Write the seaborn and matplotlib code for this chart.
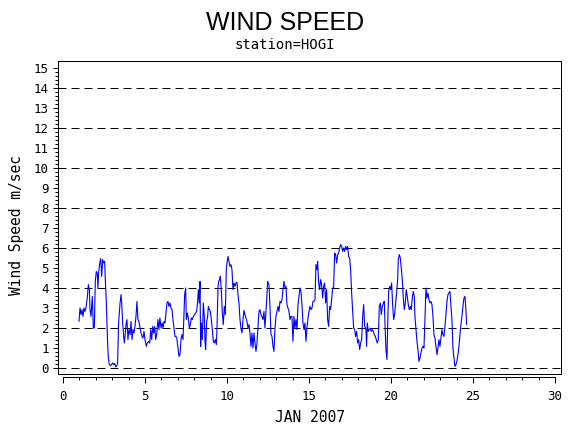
import numpy as np
import pandas as pd
import matplotlib
matplotlib.use("Agg")
import matplotlib.pyplot as plt
from matplotlib.ticker import FixedLocator
import seaborn as sns

# ---------------- data (hourly-ish wind speed) ----------------
days_jan1_6 = [0.976, 1.037, 1.098, 1.159, 1.22, 1.28, 1.34, 1.40, 1.48, 1.545, 1.606, 1.646, 1.707, 1.788,
               1.85, 1.91, 1.97, 2.03, 2.09, 2.13, 2.17, 2.24, 2.30, 2.36, 2.42, 2.48, 2.54, 2.58, 2.64, 2.68,
               2.72, 2.76, 2.82, 2.91, 3.03, 3.09, 3.15, 3.21, 3.29, 3.33, 3.39, 3.48, 3.54, 3.58, 3.64, 3.70,
               3.74, 3.80, 3.84, 3.90, 3.96, 4.02, 4.09, 4.15, 4.21, 4.27, 4.33, 4.39, 4.45, 4.51, 4.57, 4.63,
               4.70, 4.76, 4.82, 4.88, 4.94, 5.0, 5.08, 5.14, 5.22, 5.29, 5.35, 5.41, 5.47, 5.53, 5.59, 5.65,
               5.71, 5.79, 5.85, 5.91, 5.98, 6.04, 6.10, 6.16, 6.22, 6.28, 6.34]
speed_jan1_6 = [2.33, 3.0, 2.67, 2.92, 2.58, 3.0, 2.83, 3.0, 3.5, 4.17, 3.92, 2.92, 2.58, 3.58,
                2.0, 2.0, 4.33, 4.83, 4.75, 4.0, 4.75, 5.25, 5.47, 4.58, 5.42, 5.25, 5.33, 4.42, 3.33, 2.25,
                1.25, 0.58, 0.17, 0.12, 0.25, 0.17, 0.22, 0.05, 0.12, 0.25, 2.25, 3.25, 3.67, 3.25, 2.25, 1.58,
                1.25, 1.75, 2.17, 2.42, 1.42, 1.92, 1.67, 2.33, 1.42, 1.92, 1.75, 2.08, 2.58, 3.33, 2.42, 2.33,
                2.0, 1.75, 1.58, 1.5, 1.83, 1.42, 1.08, 1.25, 1.33, 1.25, 1.92, 1.42, 2.08, 1.75, 2.08, 1.42,
                1.67, 2.42, 1.92, 2.5, 2.0, 2.25, 2.0, 2.33, 2.25, 2.75, 3.25]

days_jan6_12 = [6.402, 6.463, 6.524, 6.585, 6.646, 6.707, 6.768, 6.829, 6.890, 6.951, 7.012, 7.073, 7.134,
                7.195, 7.256, 7.317, 7.358, 7.419, 7.480, 7.520, 7.581, 7.642, 7.703, 7.764, 7.825, 7.886,
                7.947, 8.028, 8.089, 8.150, 8.211, 8.252, 8.313, 8.354, 8.394, 8.435, 8.496, 8.557, 8.618,
                8.659, 8.699, 8.760, 8.821, 8.862, 8.923, 8.984, 9.045, 9.106, 9.167, 9.228, 9.289, 9.350,
                9.390, 9.451, 9.492, 9.553, 9.593, 9.654, 9.715, 9.776, 9.837, 9.898, 9.959, 10.0, 10.061,
                10.122, 10.183, 10.244, 10.305, 10.366, 10.427, 10.488, 10.549, 10.610, 10.671, 10.732,
                10.793, 10.854, 10.915, 10.976, 11.037, 11.098, 11.159, 11.220, 11.280, 11.341, 11.402,
                11.463, 11.524, 11.585, 11.646, 11.707, 11.768, 11.829, 11.890, 11.951, 12.012, 12.073,
                12.134, 12.195, 12.256, 12.317, 12.378, 12.439, 12.480]
speed_jan6_12 = [3.33, 3.08, 3.25, 3.0, 2.92, 2.42, 2.0, 1.58, 1.58, 1.42, 1.0, 0.58, 0.67,
                 1.42, 1.67, 1.42, 2.25, 3.67, 4.0, 2.42, 2.75, 2.5, 2.0, 2.17, 2.5, 2.42,
                 2.58, 2.67, 2.75, 2.83, 3.33, 3.92, 3.25, 4.33, 1.08, 2.25, 1.42, 3.25, 2.58,
                 1.33, 0.92, 2.33, 2.58, 3.08, 2.92, 2.83, 2.42, 1.92, 1.33, 1.25, 1.42, 1.17,
                 1.92, 4.0, 4.33, 4.42, 4.58, 3.92, 2.75, 2.17, 3.08, 2.67, 4.92, 5.25, 5.58,
                 5.33, 5.08, 5.17, 4.92, 3.92, 4.25, 4.08, 4.25, 4.28, 3.67, 3.25,
                 2.42, 2.0, 1.75, 2.42, 2.88, 2.67, 2.5, 2.33, 2.0, 2.17, 1.75,
                 1.08, 1.75, 1.0, 1.75, 1.25, 0.83, 1.25, 2.08, 2.83, 2.92, 2.67,
                 2.58, 2.42, 2.83, 2.0, 2.83, 3.67, 4.33]

days_jan12_18 = [12.500, 12.561, 12.622, 12.683, 12.744, 12.805, 12.866, 12.927, 12.988, 13.049, 13.110,
                 13.171, 13.232, 13.293, 13.354, 13.415, 13.476, 13.537, 13.598, 13.659, 13.720, 13.780,
                 13.841, 13.902, 13.963, 14.024, 14.085, 14.146, 14.207, 14.268, 14.329, 14.390, 14.451,
                 14.512, 14.573, 14.634, 14.695, 14.756, 14.817, 14.878, 14.939, 15.0, 15.061, 15.122,
                 15.183, 15.244, 15.305, 15.366, 15.427, 15.488, 15.528, 15.589, 15.650, 15.711, 15.772,
                 15.833, 15.894, 15.955, 16.016, 16.077, 16.138, 16.199, 16.260, 16.321, 16.382, 16.443,
                 16.504, 16.565, 16.626, 16.687, 16.748, 16.809, 16.870, 16.931, 16.992, 17.053, 17.114,
                 17.175, 17.236, 17.297, 17.358, 17.419, 17.480, 17.541, 17.602, 17.663, 17.724, 17.785,
                 17.846, 17.907, 17.968, 18.029, 18.091, 18.152, 18.213, 18.274, 18.335, 18.396, 18.457]
speed_jan12_18 = [4.25, 4.17, 3.08, 1.67, 1.58, 1.08, 0.83, 2.0, 2.58, 2.83, 3.08,
                  2.83, 3.33, 3.25, 3.42, 3.92, 4.33, 4.0, 4.08, 3.17, 3.0, 2.83,
                  2.42, 2.58, 2.58, 1.33, 2.58, 2.0, 2.42, 1.92, 3.17, 3.58, 4.0,
                  3.83, 3.17, 2.25, 1.92, 2.25, 1.33, 2.0, 2.5, 2.83, 3.08, 2.92,
                  3.0, 3.33, 3.33, 3.42, 5.17, 4.92, 5.33, 4.25, 3.92, 4.42, 4.17,
                  3.5, 4.08, 4.25, 3.25, 3.92, 2.42, 2.08, 3.08, 2.92, 3.42, 4.0,
                  4.0, 5.75, 5.67, 5.25, 5.67, 5.75, 6.0, 6.17, 6.08, 5.83, 6.0,
                  5.83, 6.08, 5.92, 6.08, 5.58, 5.5, 4.92, 3.75, 2.83, 2.0, 1.92,
                  1.58, 1.83, 1.25, 1.42, 0.92, 1.25, 1.42, 2.58, 3.17, 2.08, 2.0]

days_jan18_25 = [18.476, 18.516, 18.557, 18.618, 18.679, 18.740, 18.801, 18.862, 18.923, 18.984, 19.045,
                 19.106, 19.167, 19.228, 19.289, 19.350, 19.411, 19.472, 19.533, 19.594, 19.634, 19.695,
                 19.756, 19.797, 19.858, 19.919, 19.980, 20.041, 20.102, 20.163, 20.224, 20.285, 20.346,
                 20.407, 20.447, 20.508, 20.569, 20.630, 20.691, 20.752, 20.813, 20.874, 20.935, 20.996,
                 21.057, 21.118, 21.179, 21.240, 21.301, 21.362, 21.423, 21.463, 21.524, 21.585, 21.646,
                 21.707, 21.768, 21.829, 21.890, 21.951, 22.012, 22.073, 22.134, 22.195, 22.256, 22.317,
                 22.378, 22.439, 22.500, 22.561, 22.622, 22.683, 22.744, 22.805, 22.866, 22.927, 22.988,
                 23.049, 23.110, 23.171, 23.232, 23.293, 23.354, 23.415, 23.476, 23.537, 23.598, 23.659,
                 23.720, 23.780, 23.841, 23.902, 23.963, 24.024, 24.085, 24.146, 24.207, 24.268, 24.329,
                 24.390, 24.451, 24.512, 24.573, 24.614]
speed_jan18_25 = [1.92, 1.08, 2.25, 1.83, 1.92, 2.0, 1.83, 1.92, 1.83, 1.67, 1.58,
                  1.42, 1.25, 1.42, 3.08, 3.25, 2.67, 3.08, 3.25, 3.33, 2.25, 0.92,
                  0.42, 2.08, 3.83, 4.08, 3.92, 4.25, 3.17, 2.42, 2.67, 3.25, 3.75,
                  4.42, 5.42, 5.67, 5.5, 5.0, 4.42, 3.5, 2.92, 3.25, 3.92, 3.58,
                  3.17, 2.92, 3.08, 2.92, 3.5, 3.83, 3.58, 2.58, 1.92, 1.33, 0.92,
                  0.33, 0.5, 0.75, 1.0, 1.08, 1.0, 2.42, 4.0, 3.5, 3.75, 3.42,
                  3.25, 3.33, 3.17, 2.58, 1.67, 1.5, 1.08, 0.67, 1.0, 1.42, 1.08,
                  1.5, 1.92, 1.67, 1.58, 2.08, 2.67, 3.33, 3.67, 3.75, 3.83, 3.08,
                  2.42, 1.0, 0.5, 0.08, 0.17, 0.33, 0.67, 1.08, 1.67, 2.17, 2.58,
                  3.08, 3.5, 3.58, 2.92, 2.17]

title = "WIND SPEED"
subtitle = "station=HOGI"
y_label = "Wind Speed m/sec"
x_label = "JAN 2007"
y_ticks = list(range(0, 16))
x_ticks = [0, 5, 10, 15, 20, 25, 30]
grid_levels = [0, 2, 4, 6, 8, 10, 12, 14]

days = days_jan1_6 + days_jan6_12 + days_jan12_18 + days_jan18_25
speed = speed_jan1_6 + speed_jan6_12 + speed_jan12_18 + speed_jan18_25
df = pd.DataFrame({"day": days, "speed": speed})

# ---------------- figure ----------------
sns.set_theme(style="white")
plt.rcParams['font.family'] = ['DejaVu Sans Mono', 'DejaVu Sans']

W, H = 570, 430
fig = plt.figure(figsize=(W / 100, H / 100), dpi=100)
fig.patch.set_facecolor("white")

def fx(px):
    return px / W

def fy(py):
    return 1 - py / H

L, R, T, B = 58, 561, 61, 374
ax = fig.add_axes([fx(L), fy(B), (R - L) / W, (B - T) / H])
ax.set_facecolor("white")

for g in grid_levels:
    ax.axhline(g, color="black", lw=0.72, dashes=(8, 5), zorder=1)

sns.lineplot(data=df, x="day", y="speed", ax=ax, color="#0000ff", lw=0.8,
             estimator=None, sort=False, zorder=3)

xmin, xmax = -0.305, 30.37
ax.set_xlim(xmin, xmax)
ax.set_ylim(-0.3, 15.35)
ax.set_xlabel("")
ax.set_ylabel("")
ax.set_xticks([])
ax.set_yticks(y_ticks)
ax.set_yticklabels([str(t) for t in y_ticks])
minor_y = [v for v in np.round(np.arange(0, 15.01, 0.2), 2) if abs(v - round(v)) > 1e-6]
ax.yaxis.set_minor_locator(FixedLocator(minor_y))
ax.tick_params(axis="y", which="major", direction="out", length=3.6, width=0.72,
               pad=3, labelsize=9, colors="black", left=True)
ax.tick_params(axis="y", which="minor", direction="out", length=2.0, width=0.72,
               colors="black", left=True)
for s in ax.spines.values():
    s.set_visible(True)
    s.set_color("black")
    s.set_linewidth(0.72)

# separate SAS-style horizontal axis below the frame
axx = fig.add_axes([fx(L), fy(377), (R - L) / W, 0.0001])
axx.set_xlim(xmin, xmax)
axx.patch.set_visible(False)
for side in ["top", "left", "right"]:
    axx.spines[side].set_visible(False)
axx.spines["bottom"].set_color("black")
axx.spines["bottom"].set_linewidth(0.72)
axx.spines["bottom"].set_bounds(0, 30)
axx.set_yticks([])
axx.set_xticks(x_ticks)
axx.set_xticklabels([str(t) for t in x_ticks])
axx.xaxis.set_minor_locator(FixedLocator([d for d in range(0, 31) if d % 5 != 0]))
axx.tick_params(axis="x", which="major", direction="out", length=4.0, width=0.72,
                pad=5, labelsize=9, colors="black", bottom=True)
axx.tick_params(axis="x", which="minor", direction="out", length=2.0, width=0.72,
                colors="black", bottom=True)

fig.text(fx(285), fy(23), title, ha="center", va="center", fontsize=18,
         family=["Liberation Sans", "DejaVu Sans"], color="black")
fig.text(fx(285), fy(45), subtitle, ha="center", va="center", fontsize=10, color="black")
fig.text(fx(17), fy(225), y_label, rotation=90, ha="center", va="center", fontsize=10.5, color="black")
fig.text(fx(310), fy(418), x_label, ha="center", va="center", fontsize=10.5, color="black")

fig.savefig("out.png", dpi=100, facecolor="white")
